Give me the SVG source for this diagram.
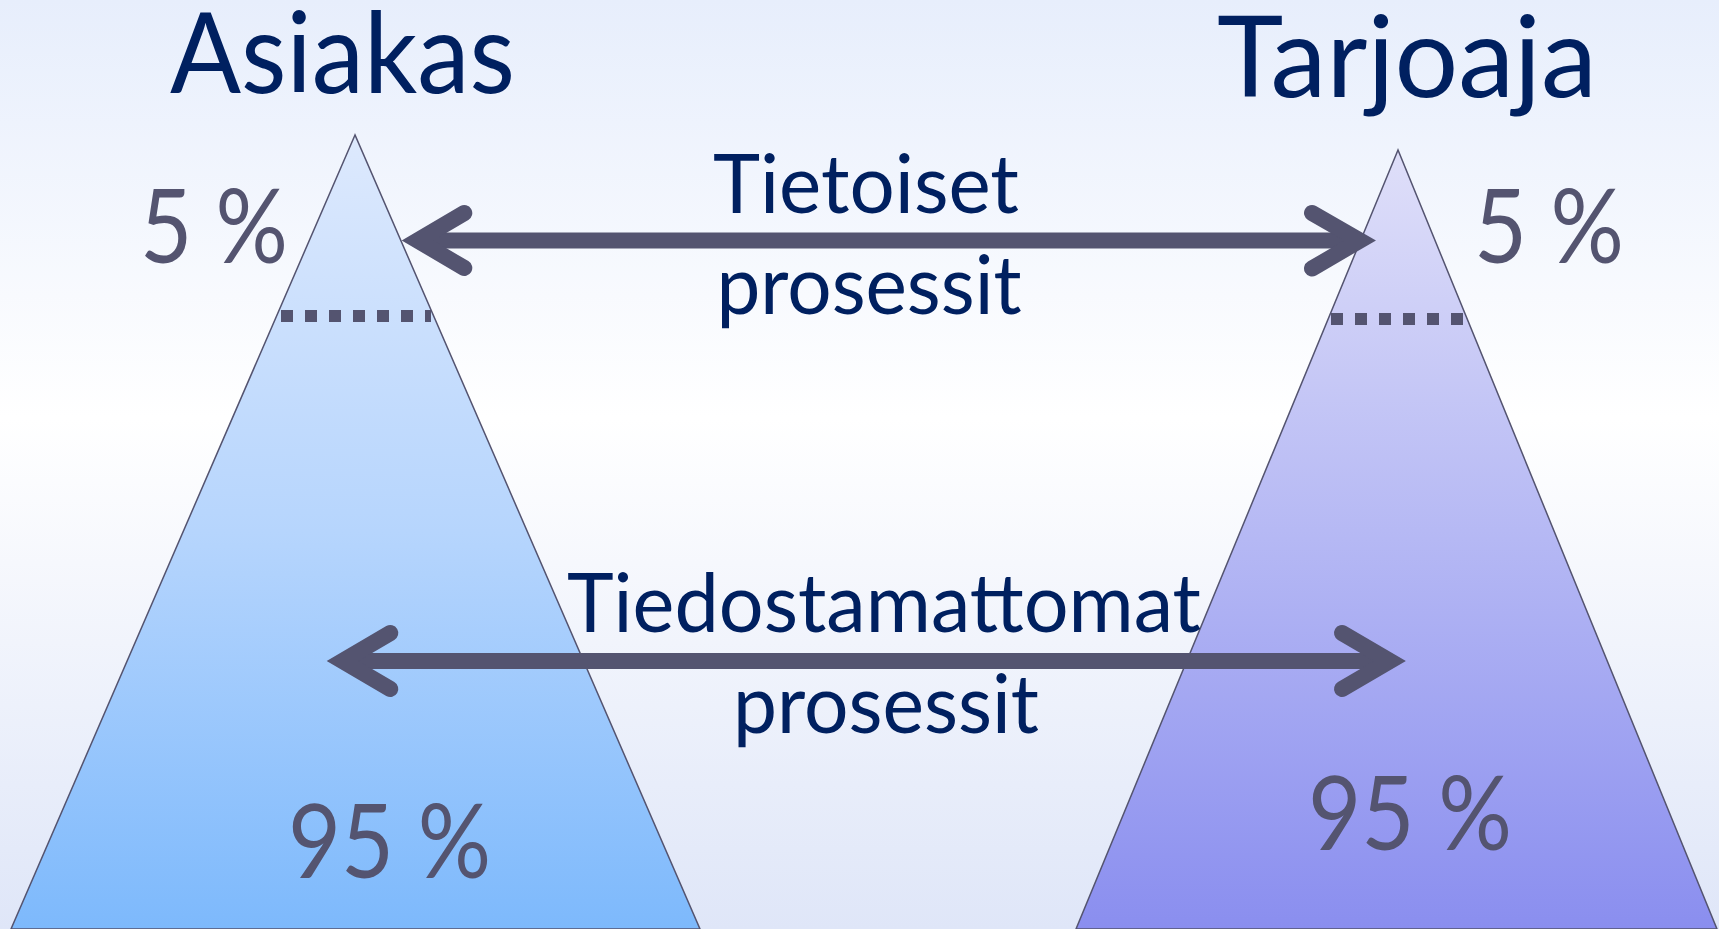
<svg xmlns="http://www.w3.org/2000/svg" width="1719" height="929" viewBox="0 0 1719 929">
<defs>
  <linearGradient id="bg" x1="0" y1="0" x2="0" y2="1">
    <stop offset="0" stop-color="#e7eefc"/>
    <stop offset="0.45" stop-color="#ffffff"/>
    <stop offset="1" stop-color="#dfe6f8"/>
  </linearGradient>
  <linearGradient id="gL" gradientUnits="userSpaceOnUse" x1="0" y1="135" x2="0" y2="929">
    <stop offset="0" stop-color="#dde9fd"/>
    <stop offset="0.5" stop-color="#b6d5fd"/>
    <stop offset="1" stop-color="#7db9fc"/>
  </linearGradient>
  <linearGradient id="gR" gradientUnits="userSpaceOnUse" x1="0" y1="150" x2="0" y2="929">
    <stop offset="0" stop-color="#dfdff9"/>
    <stop offset="0.5" stop-color="#b5b8f4"/>
    <stop offset="1" stop-color="#8a8eef"/>
  </linearGradient>
  <style>
    .tri { stroke: #545470; stroke-width: 1.5; }
    .dots { stroke: #545470; stroke-width: 12; stroke-dasharray: 12 12; fill: none; }
    .shaft { stroke: #545470; stroke-width: 16; fill: none; stroke-linecap: butt; }
    .head { stroke: #545470; stroke-width: 16; fill: none; stroke-linecap: round; stroke-linejoin: miter; stroke-miterlimit: 10; }
    .title { font-family: Lato, "Open Sans", "Liberation Sans", sans-serif; font-size: 113px; fill: #002060; }
    .label { font-family: Lato, "Open Sans", "Liberation Sans", sans-serif; font-size: 81px; fill: #002060; }
    .pct { font-family: Lato, "Open Sans", "Liberation Sans", sans-serif; font-size: 102px; fill: #545470; }
  </style>
</defs>

<rect x="0" y="0" width="1719" height="929" fill="url(#bg)"/>

<g id="asiakas">
  <polygon class="tri" points="355,135 11,929 700,929" fill="url(#gL)"/>
  <line class="dots" x1="281" y1="316" x2="431" y2="316"/>
  <text class="title" x="170" y="93" textLength="345" lengthAdjust="spacingAndGlyphs">Asiakas</text>
  <text class="pct" x="140" y="263" textLength="148" lengthAdjust="spacingAndGlyphs">5 %</text>
  <text class="pct" x="288" y="878" textLength="203" lengthAdjust="spacingAndGlyphs">95 %</text>
</g>

<g id="tarjoaja">
  <polygon class="tri" points="1398,150 1076,929 1717,929" fill="url(#gR)"/>
  <line class="dots" x1="1331" y1="319" x2="1463" y2="319"/>
  <text class="title" x="1217" y="97" textLength="380" lengthAdjust="spacingAndGlyphs">Tarjoaja</text>
  <text class="pct" x="1474" y="263" textLength="150" lengthAdjust="spacingAndGlyphs">5 %</text>
  <text class="pct" x="1308" y="850" textLength="204" lengthAdjust="spacingAndGlyphs">95 %</text>
</g>

<g id="connectors">
  <line class="shaft" x1="417.5" y1="240.5" x2="1360" y2="240.5"/>
  <polyline class="head" points="464.3,213 417.5,240.5 464.3,268"/>
  <polyline class="head" points="1312,213 1360,240.5 1312,268.5"/>
  <line class="shaft" x1="342.5" y1="661" x2="1390" y2="661"/>
  <polyline class="head" points="390.3,633 342.5,661 390.3,689"/>
  <polyline class="head" points="1342,633 1390,661 1342,689"/>
</g>

<g id="label-tietoiset">
  <text class="label" x="713" y="212.5" textLength="306" lengthAdjust="spacingAndGlyphs">Tietoiset</text>
  <text class="label" x="716.5" y="314" textLength="305" lengthAdjust="spacingAndGlyphs">prosessit</text>
</g>

<g id="label-tiedostamattomat">
  <text class="label" x="567" y="631.5" textLength="634" lengthAdjust="spacingAndGlyphs">Tiedostamattomat</text>
  <text class="label" x="733" y="733" textLength="306" lengthAdjust="spacingAndGlyphs">prosessit</text>
</g>
</svg>
